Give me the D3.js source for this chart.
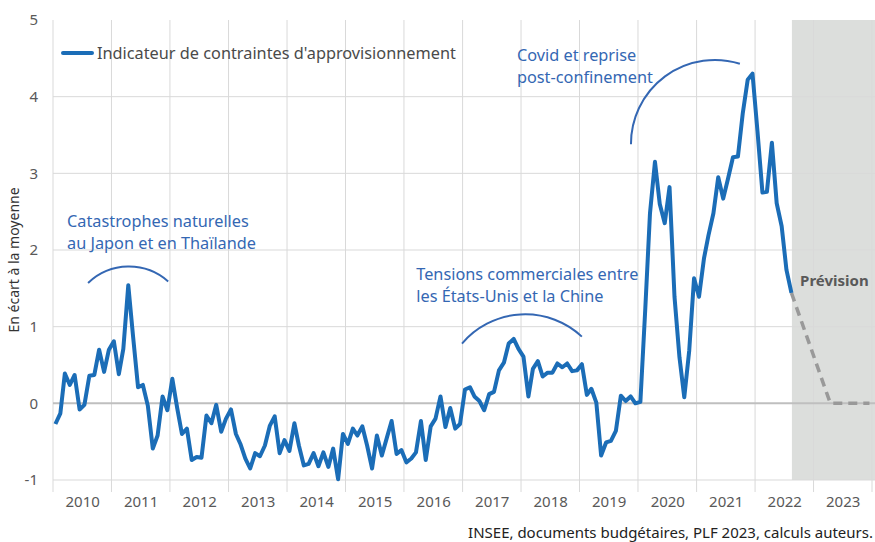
<!DOCTYPE html>
<html>
<head>
<meta charset="utf-8">
<script src="https://cdn.jsdelivr.net/npm/d3@7"></script>
<style>
  body { margin: 0; background: #fff; }
  text { font-family: "Noto Sans", sans-serif; }
</style>
</head>
<body>
<svg width="875" height="542"></svg>
<script>
// monthly values, first point = January 2010
const firstYear = 2010
const indicator = [
  -0.27, -0.13, 0.39, 0.24, 0.37, -0.08, -0.02, 0.36, 0.37, 0.70, 0.41, 0.70,
  0.81, 0.38, 0.71, 1.54, 0.87, 0.21, 0.24, -0.03, -0.59, -0.42, 0.09, -0.09,
  0.32, -0.07, -0.40, -0.33, -0.74, -0.70, -0.71, -0.16, -0.26, -0.02, -0.37, -0.20,
  -0.08, -0.40, -0.53, -0.72, -0.85, -0.65, -0.69, -0.55, -0.29, -0.17, -0.65, -0.48,
  -0.62, -0.26, -0.55, -0.81, -0.79, -0.65, -0.82, -0.64, -0.83, -0.59, -0.99, -0.40,
  -0.53, -0.33, -0.42, -0.30, -0.55, -0.85, -0.42, -0.68, -0.45, -0.23, -0.66, -0.61,
  -0.77, -0.72, -0.64, -0.23, -0.74, -0.30, -0.20, 0.09, -0.31, -0.06, -0.33, -0.27,
  0.18, 0.21, 0.09, 0.03, -0.09, 0.12, 0.15, 0.43, 0.53, 0.78, 0.84, 0.71,
  0.61, 0.09, 0.45, 0.55, 0.35, 0.40, 0.40, 0.52, 0.47, 0.52, 0.42, 0.43,
  0.51, 0.11, 0.19, 0.01, -0.68, -0.51, -0.49, -0.36, 0.10, 0.03, 0.09, 0.00,
  0.02, 1.25, 2.48, 3.15, 2.60, 2.35, 2.82, 1.39, 0.60, 0.08, 0.69, 1.63,
  1.39, 1.89, 2.19, 2.48, 2.95, 2.67, 2.93, 3.21, 3.22, 3.78, 4.22, 4.30,
  3.55, 2.75, 2.76, 3.40, 2.61, 2.31, 1.74, 1.44
]
// forecast (month index from January 2010)
const forecastMonths = [151, 159, 167]
const forecastValues = [1.44, 0.0, 0.0]
const forecastStart = 2022.63

const yearLabels = [2010, 2011, 2012, 2013, 2014, 2015, 2016, 2017, 2018, 2019, 2020, 2021, 2022, 2023]
const yTicks = [-1, 0, 1, 2, 3, 4, 5]

const blue = '#1b6db7'
const noteBlue = '#3467b3'
const grey = '#595959'

const svg = d3.select('svg')
const margin = {top: 20, left: 53, right: 3, bottom: 62}
const width = +svg.attr('width')
const height = +svg.attr('height')

const dec = v => {
  const yr = Math.floor(v)
  const start = new Date(yr, 0, 1), end = new Date(yr + 1, 0, 1)
  return new Date(+start + (v - yr) * (end - start))
}
const monthDate = m => new Date(firstYear, m, 16)

const x = d3.scaleTime()
  .domain([new Date(2010, 0, 1), new Date(2024, 0, 1)])
  .range([margin.left, width - margin.right])
const y = d3.scaleLinear()
  .domain([-1, 5])
  .range([height - margin.bottom, margin.top])

// forecast shading
svg.append('rect')
  .attr('x', x(dec(forecastStart)))
  .attr('y', y(5))
  .attr('width', width - x(dec(forecastStart)))
  .attr('height', y(-1) - y(5))
  .attr('fill', '#dcdedc')

// vertical grid
const yearStarts = d3.range(2010, 2025).map(d => new Date(d, 0, 1))
svg.append('g').selectAll('line')
  .data(yearStarts)
  .join('line')
  .attr('x1', d => x(d)).attr('x2', d => x(d))
  .attr('y1', y(5)).attr('y2', y(-1) + 12)
  .attr('stroke', '#d9d9d9')
  .attr('stroke-width', 1)

// horizontal grid
svg.append('g').selectAll('line')
  .data(yTicks.filter(d => d < 5))
  .join('line')
  .attr('x1', margin.left).attr('x2', width)
  .attr('y1', d => y(d)).attr('y2', d => y(d))
  .attr('stroke', d => d === 0 ? '#bfbfbf' : '#d9d9d9')
  .attr('stroke-width', d => d === 0 ? 2 : 1)

// y axis labels
const yAxis = svg.append('g')
  .attr('transform', `translate(${margin.left - 15},0)`)
  .call(d3.axisLeft(y).tickValues(yTicks).tickSize(0).tickPadding(0).tickFormat(d => String(d)))
yAxis.select('.domain').remove()
yAxis.selectAll('text')
  .attr('font-size', 15)
  .attr('fill', grey)
  .style('font-family', '"Noto Sans", sans-serif')

// x axis labels (centred in each year)
const xAxis = svg.append('g')
  .attr('transform', `translate(0,${y(-1) + 16})`)
  .call(d3.axisBottom(x)
    .tickValues(yearLabels.map(d => new Date(d, 6, 2)))
    .tickSize(0).tickPadding(0)
    .tickFormat(d3.timeFormat('%Y')))
xAxis.select('.domain').remove()
xAxis.selectAll('text')
  .attr('font-size', 15)
  .attr('fill', grey)
  .style('font-family', '"Noto Sans", sans-serif')

// forecast line
svg.append('path')
  .datum(forecastMonths.map((m, i) => [m, forecastValues[i]]))
  .attr('fill', 'none')
  .attr('stroke', '#999999')
  .attr('stroke-width', 3.5)
  .attr('stroke-dasharray', '9,6')
  .attr('d', d3.line().x(d => x(monthDate(d[0]))).y(d => y(d[1])))

// main line
svg.append('path')
  .datum(indicator)
  .attr('fill', 'none')
  .attr('stroke', blue)
  .attr('stroke-width', 4)
  .attr('stroke-linejoin', 'round')
  .attr('d', d3.line().x((d, i) => x(monthDate(i))).y(d => y(d)))

// annotations
const notes = [
  {lines: ['Catastrophes naturelles', 'au Japon et en Thaïlande'], at: [2010.24, 2.30],
   arc: [[2010.60, 1.57], [2011.97, 1.59]], r: 59},
  {lines: ['Tensions commerciales entre', 'les États-Unis et la Chine'], at: [2016.21, 1.61],
   arc: [[2016.99, 0.78], [2019.04, 0.87]], r: 83},
  {lines: ['Covid et reprise', 'post-confinement'], at: [2017.93, 4.46],
   arc: [[2019.88, 3.38], [2021.74, 4.43]], r: 84}
]
notes.forEach(n => {
  const t = svg.append('text')
    .attr('x', x(dec(n.at[0])))
    .attr('y', y(n.at[1]))
    .attr('font-size', 16.3)
    .attr('fill', noteBlue)
  n.lines.forEach((l, i) => {
    t.append('tspan')
      .attr('x', x(dec(n.at[0])))
      .attr('dy', i === 0 ? 0 : 22)
      .text(l)
  })
  const [a, b] = n.arc
  svg.append('path')
    .attr('fill', 'none')
    .attr('stroke', noteBlue)
    .attr('stroke-width', 2)
    .attr('d', `M${x(dec(a[0]))},${y(a[1])} A${n.r},${n.r} 0 0 1 ${x(dec(b[0]))},${y(b[1])}`)
})

svg.append('text')
  .attr('x', x(dec(2022.77)))
  .attr('y', y(1.53))
  .attr('font-size', 15)
  .attr('font-weight', 'bold')
  .attr('fill', grey)
  .text('Prévision')

// legend
const legend = svg.append('g').attr('transform', 'translate(63,53)')
legend.append('line')
  .attr('x1', 0).attr('x2', 29)
  .attr('stroke', blue).attr('stroke-width', 4).attr('stroke-linecap', 'round')
legend.append('text')
  .attr('x', 34).attr('y', 5.5)
  .attr('font-size', 16.3)
  .attr('fill', '#4a4a4a')
  .text("Indicateur de contraintes d'approvisionnement")

// y title
svg.append('text')
  .attr('transform', `translate(19,${(y(5) + y(-1)) / 2 + 10}) rotate(-90)`)
  .attr('text-anchor', 'middle')
  .attr('font-size', 14)
  .attr('fill', '#333')
  .text('En écart à la moyenne')

// source
svg.append('text')
  .attr('x', width - 2)
  .attr('y', height - 4)
  .attr('text-anchor', 'end')
  .attr('font-size', 15)
  .attr('fill', '#222')
  .text('INSEE, documents budgétaires, PLF 2023, calculs auteurs.')
</script>
</body>
</html>
